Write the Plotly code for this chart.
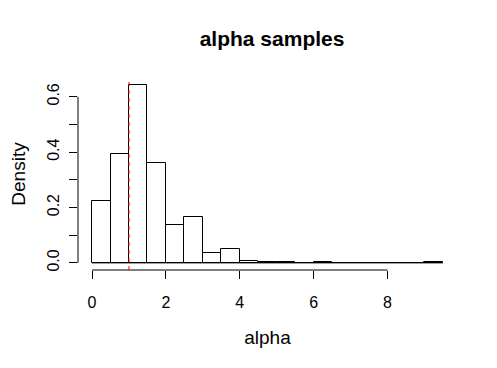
import plotly.graph_objects as go

# Histogram of alpha samples (bin width 0.5), density scale
bin_left = [0.0, 0.5, 1.0, 1.5, 2.0, 2.5, 3.0, 3.5, 4.0, 4.5, 5.0, 5.5, 6.0, 6.5, 7.0, 7.5, 8.0, 8.5, 9.0]
density = [0.222, 0.394, 0.642, 0.359, 0.136, 0.165, 0.035, 0.050, 0.006, 0.004, 0.003, 0.0, 0.002, 0.0, 0.0, 0.0, 0.0, 0.0, 0.002]
bin_width = 0.5
true_alpha = 1.0
x_ticks = [0, 2, 4, 6, 8]
y_ticks = [0.0, 0.1, 0.2, 0.3, 0.4, 0.5, 0.6]
y_tick_labels = ["0.0", "", "0.2", "", "0.4", "", "0.6"]

centers = [b + bin_width / 2 for b in bin_left]
xmax = bin_left[-1] + bin_width
ymax = max(density)
xpad = 0.04 * xmax
ypad = 0.04 * ymax

FONT = "Liberation Sans, Arial, Helvetica, sans-serif"

fig = go.Figure()
fig.add_trace(go.Bar(
    x=centers, y=density, width=bin_width,
    marker=dict(color="white", line=dict(color="black", width=1)),
    hoverinfo="x+y", showlegend=False,
))

shapes = [
    # baseline of zero-height bins
    dict(type="line", xref="x", yref="y", x0=bin_left[0], x1=xmax, y0=0, y1=0,
         line=dict(color="black", width=1), layer="above"),
    # x axis line from first to last tick
    dict(type="line", xref="x", yref="paper", x0=x_ticks[0], x1=x_ticks[-1], y0=0, y1=0,
         line=dict(color="black", width=1)),
    # y axis line
    dict(type="line", xref="paper", yref="y", x0=0, x1=0, y0=y_ticks[0], y1=y_ticks[-1],
         line=dict(color="black", width=1)),
    # true value
    dict(type="line", xref="x", yref="paper", x0=true_alpha, x1=true_alpha, y0=0, y1=1,
         line=dict(color="red", width=1, dash="4px,4px"), layer="above"),
]

# page body has an 8px margin; figure is sized/offset to compensate
fig.update_layout(
    width=489, height=360,
    margin=dict(l=70, r=40, t=70, b=98),
    paper_bgcolor="white", plot_bgcolor="white",
    font=dict(family=FONT, size=16, color="black"),
    title=dict(text="<b>alpha samples</b>", x=0.54, xanchor="center", y=0.915, yanchor="middle",
               font=dict(size=21, family=FONT, color="black")),
    shapes=shapes,
    bargap=0,
    xaxis=dict(range=[-xpad, xmax + xpad], tickvals=x_ticks, ticktext=[str(v) for v in x_ticks],
               ticks="outside", ticklen=8, tickcolor="black", tickwidth=1, ticklabelstandoff=10,
               showgrid=False, zeroline=False, showline=False,
               title=dict(text="alpha", standoff=20), automargin=False),
    yaxis=dict(range=[-ypad, ymax + ypad], tickvals=y_ticks, ticktext=y_tick_labels,
               tickangle=-90, ticks="outside", ticklen=8, tickcolor="black", tickwidth=1,
               ticklabelstandoff=4,
               showgrid=False, zeroline=False, showline=False,
               title=dict(text="Density", standoff=24), automargin=False),
)

fig.write_html("out.html")
